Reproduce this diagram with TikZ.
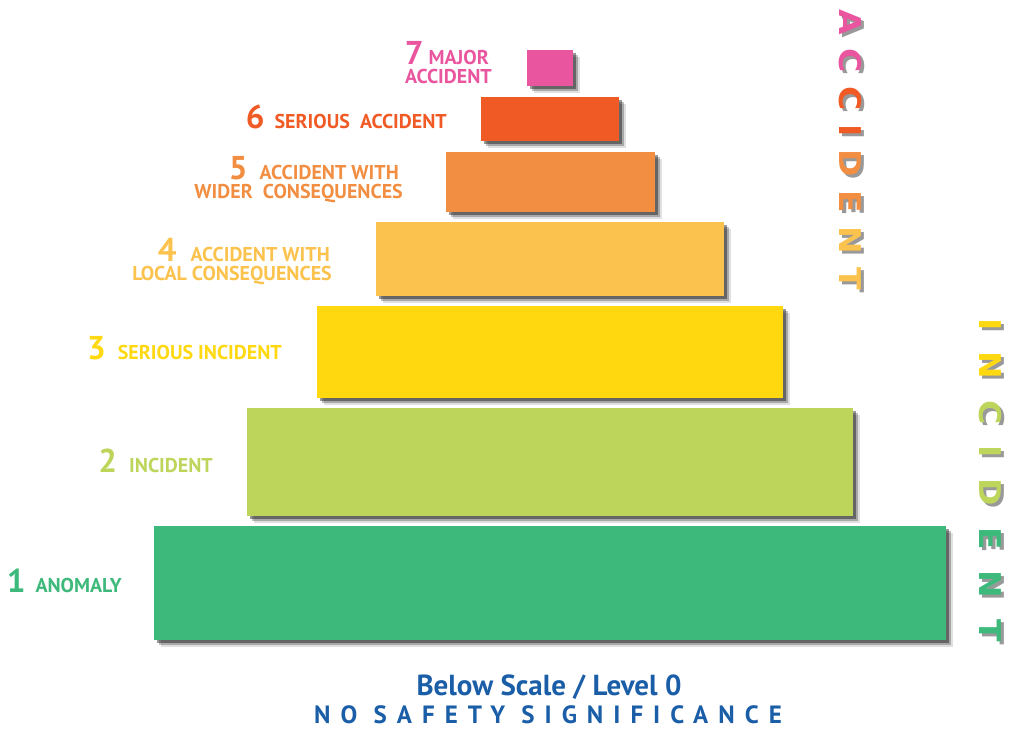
\documentclass[tikz,border=0pt]{standalone}
\usepackage{fontspec}
\setmainfont{PT Sans}
\newfontfamily\vertfont{DejaVu Sans}[FakeStretch=1.1]
\usetikzlibrary{shadows}

\definecolor{lvlseven}{HTML}{E9559E}
\definecolor{lvlsix}{HTML}{F05A24}
\definecolor{lvlfive}{HTML}{F28E42}
\definecolor{lvlfour}{HTML}{FBC24E}
\definecolor{lvlthree}{HTML}{FFD80F}
\definecolor{lvltwo}{HTML}{BDD55B}
\definecolor{lvlone}{HTML}{3DB97B}
\definecolor{scaleblue}{HTML}{1B5EA8}

\newcommand{\lvlnum}[2][10pt]{{\fontsize{33}{33}\selectfont #2}\hspace{#1}}
\newcommand{\vl}[2]{\textcolor{#1}{#2}}
\newcommand{\vlgray}[2]{#2}
\newcommand{\accidentword}[1]{\vl{lvlseven}{A\kern#1C\kern#1}\vl{lvlsix}{C\kern#1I\kern#1}%
  \vl{lvlfive}{D\kern#1E\kern#1}\vl{lvlfour}{N\kern#1T}}
\newcommand{\incidentword}[1]{\vl{lvlthree}{I\kern#1N\kern#1}\vl{lvltwo}{C\kern#1I\kern#1D\kern#1}%
  \vl{lvlone}{E\kern#1N\kern#1T}}

\begin{document}
\begin{tikzpicture}
    [x=1pt, y=1pt,
     every node/.style={inner sep=0pt, font=\bfseries\fontsize{20}{20}\selectfont},
     lvlbar/.style={draw=none, minimum width=#1,
       drop shadow={shadow xshift=7pt, shadow yshift=-7pt, opacity=0.12, fill=black},
       drop shadow={shadow xshift=5pt, shadow yshift=-5pt, opacity=0.25, fill=black},
       drop shadow={shadow xshift=3pt, shadow yshift=-3pt, opacity=0.4, fill=black}},
     lvltext/.style={anchor=base east, text=#1},
     vertword/.style={rotate=-90, font=\vertfont\bfseries\fontsize{30}{30}\selectfont},
     bottomtext/.style={anchor=base, text=scaleblue}]

    \useasboundingbox (0,0) rectangle (1011,731);

    % the seven levels, widest at the bottom
    \foreach \n/\w/\yc/\h/\c in {1/792/148/114/lvlone, 2/606/269/108/lvltwo,
        3/466/379/92/lvlthree, 4/348/472/74/lvlfour, 5/209/549/60/lvlfive,
        6/138/612/44/lvlsix, 7/46/663/36/lvlseven}
      \node (bar\n) [lvlbar=\w pt, minimum height=\h pt, fill=\c] at (550,\yc) {};

    % level names
    \node (t7a) [lvltext=lvlseven] at (489,666) {\lvlnum[5pt]{7}MAJOR};
    \node (t7b) [lvltext=lvlseven] at (492,647) {ACCIDENT};
    \node (t6)  [lvltext=lvlsix] at (447,602) {\lvlnum{6}SERIOUS\ \ ACCIDENT};
    \node (t5a) [lvltext=lvlfive] at (399,551) {\lvlnum[12pt]{5}ACCIDENT WITH};
    \node (t5b) [lvltext=lvlfive] at (403,532) {WIDER\ \ CONSEQUENCES};
    \node (t4a) [lvltext=lvlfour] at (330,469) {\lvlnum[14pt]{4}ACCIDENT WITH};
    \node (t4b) [lvltext=lvlfour] at (332,450) {LOCAL CONSEQUENCES};
    \node (t3)  [lvltext=lvlthree] at (282,371) {\lvlnum[12pt]{3}SERIOUS INCIDENT};
    \node (t2)  [lvltext=lvltwo] at (213,258) {\lvlnum[12pt]{2}INCIDENT};
    \node (t1)  [lvltext=lvlone] at (122,139) {\lvlnum{1}ANOMALY};

    % vertical words with their shadows
    \begin{scope}
      \node (accshadow) [vertword, text=black!40] at (853,578) {\let\vl\vlgray\accidentword{13.4pt}};
      \node (accword) [vertword] at (850,581) {\accidentword{13.4pt}};
      \node (incshadow) [vertword, text=black!40] at (993,248) {\let\vl\vlgray\incidentword{21pt}};
      \node (incword) [vertword] at (990,251) {\incidentword{21pt}};
    \end{scope}

    \node (below) [bottomtext, font=\bfseries\fontsize{29}{29}\selectfont] at (549,36) {Below Scale / Level 0};
    \node (nosafety) [bottomtext, font=\bfseries\fontsize{25}{25}\selectfont\addfontfeatures{LetterSpace=40}]
      at (548,8) {NO SAFETY SIGNIFICANCE};

\end{tikzpicture}
\end{document}
